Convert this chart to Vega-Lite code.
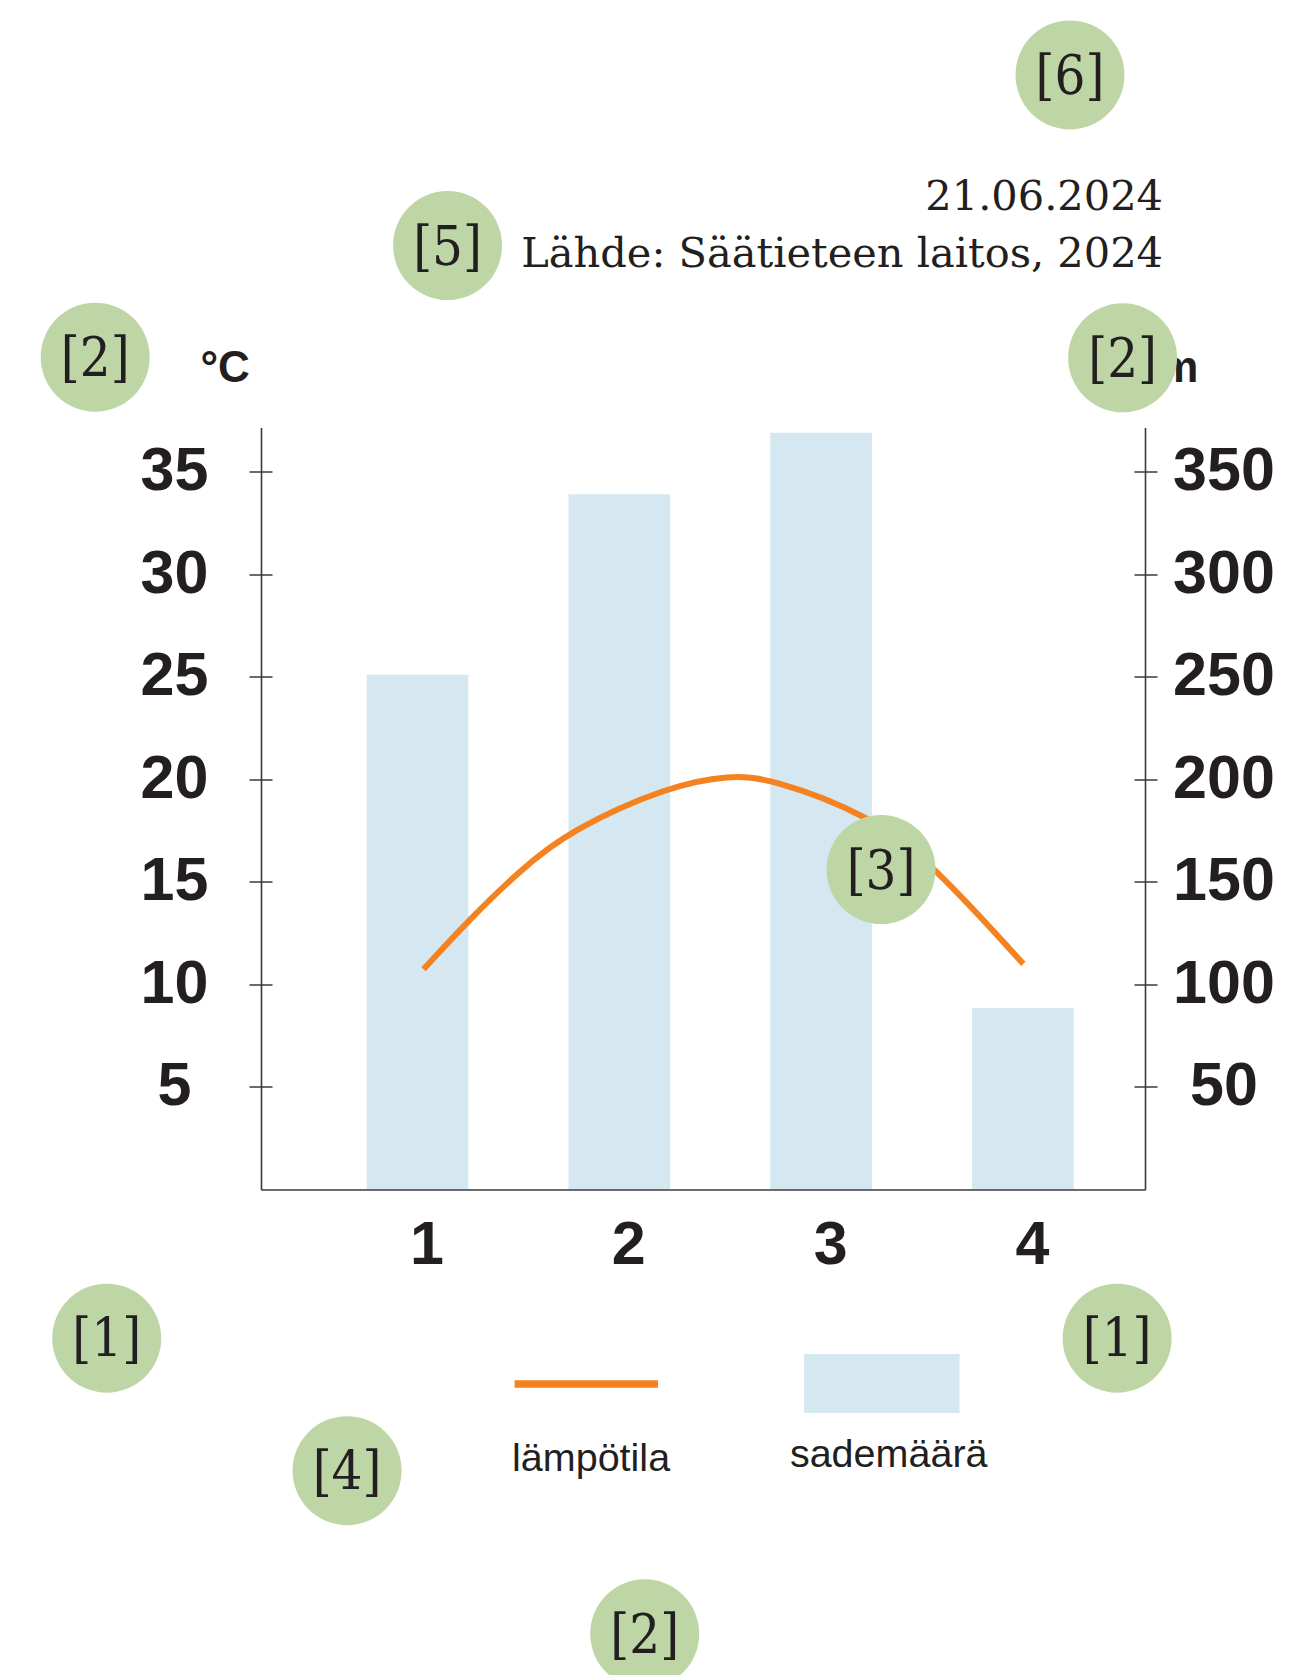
{
  "$schema": "https://vega.github.io/schema/vega-lite/v6.json",
  "autosize": {"type": "none"},
  "padding": {"left": 261, "top": 427.5, "right": 158, "bottom": 485.5},
  "width": 884,
  "height": 762,
  "background": "#ffffff",
  "config": {
    "view": {"stroke": null},
    "axisX": {
      "grid": false, "ticks": false, "tickSize": 0,
      "domain": true, "domainColor": "#3a3a3a", "domainWidth": 1.6,
      "labelFont": "Liberation Sans", "labelFontWeight": "bold", "labelFontSize": 61,
      "labelColor": "#231f20", "labelPadding": 74, "labelBaseline": "alphabetic",
      "labelFlush": false, "labelOverlap": false
    }
  },
  "datasets": {
    "sade": [
      {"kk": 1, "sademaara": 251},
      {"kk": 2, "sademaara": 339},
      {"kk": 3, "sademaara": 369},
      {"kk": 4, "sademaara": 88.5}
    ],
    "lampo": [
      {"kk": 1.03, "lampotila": 10.74},
      {"kk": 1.255, "lampotila": 13.14},
      {"kk": 1.5, "lampotila": 15.49},
      {"kk": 1.751, "lampotila": 17.5},
      {"kk": 2.251, "lampotila": 19.7},
      {"kk": 2.549, "lampotila": 20.2},
      {"kk": 2.747, "lampotila": 20.05},
      {"kk": 3.242, "lampotila": 18.26},
      {"kk": 3.556, "lampotila": 15.82},
      {"kk": 4.002, "lampotila": 11.0}
    ],
    "merkit": [
      {"merkki": "[6]", "x": 4.233, "y": 54.34},
      {"merkki": "[5]", "x": 1.149, "y": 46.02},
      {"merkki": "[2]", "x": -0.597, "y": 40.58},
      {"merkki": "[2]", "x": 4.494, "y": 40.55},
      {"merkki": "[3]", "x": 3.297, "y": 15.6},
      {"merkki": "[1]", "x": -0.54, "y": -7.25},
      {"merkki": "[1]", "x": 4.467, "y": -7.25},
      {"merkki": "[4]", "x": 0.651, "y": -13.71},
      {"merkki": "[2]", "x": 2.126, "y": -21.66}
    ],
    "otsikko": [
      {"teksti": "21.06.2024", "x": 4.694, "y": 47.74},
      {"teksti": "Lähde: Säätieteen laitos, 2024", "x": 4.694, "y": 44.98}
    ],
    "selite": [
      {"sarja": "lämpötila", "x": 1.86, "y": -13.71},
      {"sarja": "sademäärä", "x": 3.335, "y": -13.52}
    ]
  },
  "layer": [
    {
      "data": {"name": "sade"},
      "mark": {"type": "bar", "width": 101.7, "color": "#d5e7f1"},
      "encoding": {
        "x": {
          "field": "kk", "type": "quantitative",
          "scale": {"domain": [0.2245, 4.605], "nice": false, "zero": false, "padding": 0},
          "axis": {"orient": "bottom", "values": [1, 2, 3, 4], "format": "d", "title": null, "labelOffset": 9, "zindex": 1}
        },
        "y": {
          "field": "sademaara", "type": "quantitative",
          "scale": {"domain": [0, 371.5], "nice": false, "zero": false, "padding": 0},
          "axis": {
            "orient": "right", "values": [50, 100, 150, 200, 250, 300, 350],
            "title": "mm", "titleAngle": 0, "titleX": 53, "titleY": -46.5,
            "titleAlign": "right", "titleBaseline": "alphabetic",
            "titleFont": "Liberation Sans", "titleFontWeight": "bold", "titleFontSize": 44, "titleColor": "#231f20",
            "grid": false, "ticks": true, "tickSize": 12, "tickColor": "#3a3a3a", "tickWidth": 1.5,
            "domainColor": "#3a3a3a", "domainWidth": 1.6,
            "labelFont": "Liberation Sans", "labelFontWeight": "bold", "labelFontSize": 61,
            "labelColor": "#231f20", "labelAlign": "center", "labelPadding": 66.5,
            "labelFlush": false, "labelOverlap": false
          }
        }
      }
    },
    {
      "data": {"name": "lampo"},
      "mark": {"type": "line", "color": "#f58220", "strokeWidth": 6, "interpolate": "basis", "strokeCap": "butt"},
      "encoding": {
        "x": {
          "field": "kk", "type": "quantitative",
          "scale": {"domain": [0.2245, 4.605], "nice": false, "zero": false, "padding": 0},
          "axis": {"orient": "bottom", "values": [1, 2, 3, 4], "format": "d", "title": null, "labelOffset": 9, "zindex": 1}
        },
        "y": {
          "field": "lampotila", "type": "quantitative",
          "scale": {"domain": [0, 37.15], "nice": false, "zero": false, "padding": 0},
          "axis": {
            "orient": "left", "values": [5, 10, 15, 20, 25, 30, 35],
            "title": "°C", "titleAngle": 0, "titleX": -61, "titleY": -46.5,
            "titleAlign": "left", "titleBaseline": "alphabetic",
            "titleFont": "Liberation Sans", "titleFontWeight": "bold", "titleFontSize": 44, "titleColor": "#231f20",
            "grid": false, "ticks": true, "tickSize": 12, "tickColor": "#3a3a3a", "tickWidth": 1.5,
            "domainColor": "#3a3a3a", "domainWidth": 1.6,
            "labelFont": "Liberation Sans", "labelFontWeight": "bold", "labelFontSize": 61,
            "labelColor": "#231f20", "labelAlign": "center", "labelPadding": 75,
            "labelFlush": false, "labelOverlap": false
          }
        }
      }
    },
    {
      "data": {"name": "merkit"},
      "mark": {"type": "point", "filled": true, "shape": "circle", "size": 11881, "color": "#bed6a5", "opacity": 1, "strokeWidth": 0},
      "encoding": {
        "x": {
          "field": "x", "type": "quantitative",
          "scale": {"domain": [0.2245, 4.605], "nice": false, "zero": false, "padding": 0},
          "axis": {"orient": "bottom", "values": [1, 2, 3, 4], "format": "d", "title": null, "labelOffset": 9, "zindex": 1}
        },
        "y": {
          "field": "y", "type": "quantitative",
          "scale": {"domain": [0, 37.15], "nice": false, "zero": false, "padding": 0},
          "axis": {
            "orient": "left", "values": [5, 10, 15, 20, 25, 30, 35], "title": null,
            "domain": false, "labels": false, "grid": false,
            "ticks": true, "tickSize": 11, "offset": -11, "tickColor": "#3a3a3a", "tickWidth": 1.5
          }
        }
      }
    },
    {
      "data": {"name": "merkit"},
      "mark": {"type": "text", "font": "DejaVu Serif Condensed, DejaVu Serif", "fontSize": 54, "color": "#231f20", "align": "center", "baseline": "middle", "dy": 3},
      "encoding": {
        "x": {
          "field": "x", "type": "quantitative",
          "scale": {"domain": [0.2245, 4.605], "nice": false, "zero": false, "padding": 0},
          "axis": {"orient": "bottom", "values": [1, 2, 3, 4], "format": "d", "title": null, "labelOffset": 9, "zindex": 1}
        },
        "y": {"field": "y", "type": "quantitative", "scale": {"domain": [0, 37.15], "nice": false, "zero": false, "padding": 0}, "axis": null},
        "text": {"field": "merkki"}
      }
    },
    {
      "data": {"name": "otsikko"},
      "mark": {"type": "text", "font": "DejaVu Serif", "fontSize": 41.5, "color": "#231f20", "align": "right", "baseline": "alphabetic"},
      "encoding": {
        "x": {
          "field": "x", "type": "quantitative",
          "scale": {"domain": [0.2245, 4.605], "nice": false, "zero": false, "padding": 0},
          "axis": {"orient": "bottom", "values": [1, 2, 3, 4], "format": "d", "title": null, "labelOffset": 9, "zindex": 1}
        },
        "y": {"field": "y", "type": "quantitative", "scale": {"domain": [0, 37.15], "nice": false, "zero": false, "padding": 0}, "axis": null},
        "text": {"field": "teksti"}
      }
    },
    {
      "data": {"values": [{}]},
      "mark": {"type": "rule", "color": "#f58220", "strokeWidth": 7.5, "strokeCap": "butt"},
      "encoding": {
        "x": {
          "datum": 1.481, "type": "quantitative",
          "scale": {"domain": [0.2245, 4.605], "nice": false, "zero": false, "padding": 0},
          "axis": {"orient": "bottom", "values": [1, 2, 3, 4], "format": "d", "title": null, "labelOffset": 9, "zindex": 1}
        },
        "x2": {"datum": 2.192},
        "y": {"datum": -9.48, "type": "quantitative", "scale": {"domain": [0, 37.15], "nice": false, "zero": false, "padding": 0}, "axis": null}
      }
    },
    {
      "data": {"values": [{}]},
      "mark": {"type": "rect", "color": "#d5e7f1"},
      "encoding": {
        "x": {
          "datum": 2.915, "type": "quantitative",
          "scale": {"domain": [0.2245, 4.605], "nice": false, "zero": false, "padding": 0},
          "axis": {"orient": "bottom", "values": [1, 2, 3, 4], "format": "d", "title": null, "labelOffset": 9, "zindex": 1}
        },
        "x2": {"datum": 3.686},
        "y": {
          "datum": -80.2, "type": "quantitative",
          "scale": {"domain": [0, 371.5], "nice": false, "zero": false, "padding": 0},
          "axis": {
            "orient": "right", "values": [50, 100, 150, 200, 250, 300, 350], "title": null,
            "domain": false, "labels": false, "grid": false,
            "ticks": true, "tickSize": 11, "offset": -11, "tickColor": "#3a3a3a", "tickWidth": 1.5
          }
        },
        "y2": {"datum": -109.0}
      }
    },
    {
      "data": {"name": "selite"},
      "mark": {"type": "text", "font": "Liberation Sans", "fontSize": 39.5, "color": "#231f20", "align": "center", "baseline": "alphabetic"},
      "encoding": {
        "x": {
          "field": "x", "type": "quantitative",
          "scale": {"domain": [0.2245, 4.605], "nice": false, "zero": false, "padding": 0},
          "axis": {"orient": "bottom", "values": [1, 2, 3, 4], "format": "d", "title": null, "labelOffset": 9, "zindex": 1}
        },
        "y": {"field": "y", "type": "quantitative", "scale": {"domain": [0, 37.15], "nice": false, "zero": false, "padding": 0}, "axis": null},
        "text": {"field": "sarja"}
      }
    }
  ],
  "resolve": {"scale": {"y": "independent"}, "axis": {"y": "independent"}}
}
